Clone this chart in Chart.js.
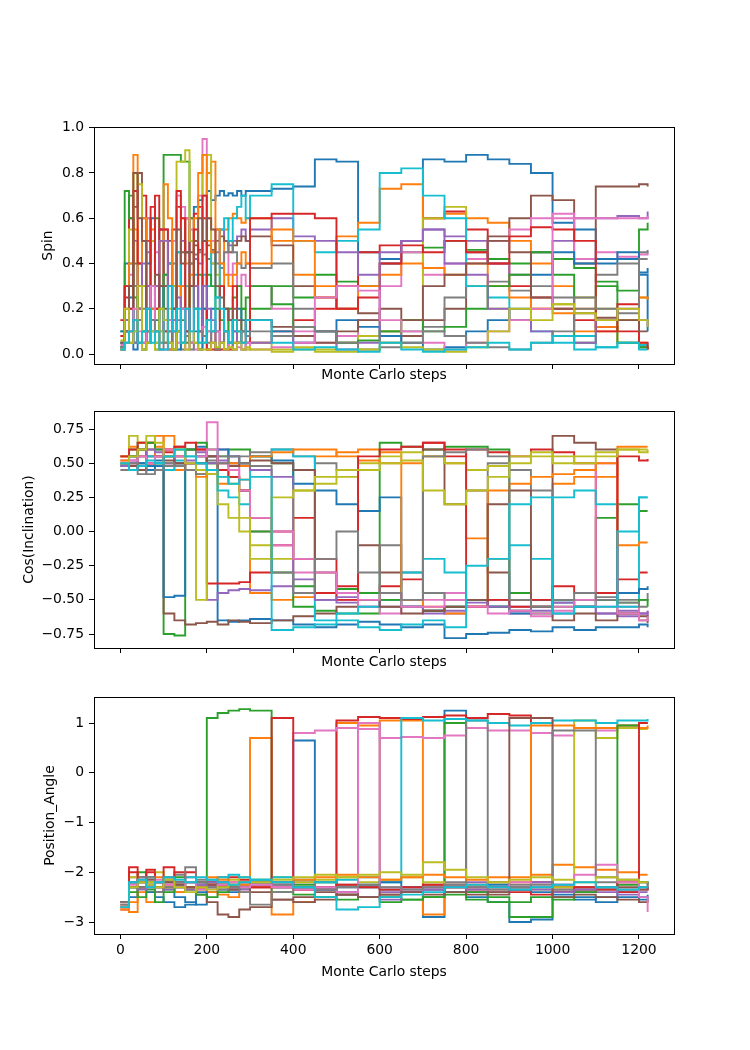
<!DOCTYPE html>
<html>
<head>
<meta charset="utf-8">
<script src="https://cdn.jsdelivr.net/npm/chart.js@4.4.0/dist/chart.umd.min.js"></script>
<style>
body{margin:0;background:#fff;}
#wrap{position:relative;width:750px;height:1050px;background:#fff;}
canvas{position:absolute;left:0;}
</style>
</head>
<body>
<div id="wrap">
<canvas id="spinChart" width="750" height="290" style="top:100px"></canvas>
<canvas id="incChart" width="750" height="290" style="top:390px"></canvas>
<canvas id="paChart" width="750" height="320" style="top:680px"></canvas>
</div>
<script>
// Monte Carlo step of every stored value (spin is sampled finer at the start)
var spinSteps = [0,10,20,30,40,50,60,70,80,90,100,110,120,130,140,150,160,170,180,190,200,210,220,230,240,250,260,270,280,290,300,
                 350,400,450,500,550,600,650,700,750,800,850,900,950,1000,1050,1100,1150,1200,1220];
var steps = [0,20,40,60,80,100,125,150,175,200,225,250,275,300,350,400,450,500,550,600,650,700,750,800,850,900,950,1000,1050,1100,1150,1200,1220];

var xTicks = [0,200,400,600,800,1000,1200];
var spinTicks = [0,0.2,0.4,0.6,0.8,1.0];
var incTicks = [-0.75,-0.5,-0.25,0,0.25,0.5,0.75];
var paTicks = [-3,-2,-1,0,1];

var colors = ['#1f77b4','#ff7f0e','#2ca02c','#d62728','#9467bd','#8c564b','#e377c2','#7f7f7f','#bcbd22','#17becf'];

// one row per walker
var spin = [
  [0.03,0.1,0.25,0.05,0.4,0.1,0.6,0.15,0.05,0.3,0.1,0.02,0.2,0.45,0.3,0.1,0.4,0.65,0.68,0.7,0.72,0.68,0.7,0.72,0.7,0.71,0.7,0.72,0.7,0.72,0.72,
   0.73,0.74,0.86,0.85,0.45,0.42,0.5,0.86,0.85,0.88,0.86,0.84,0.8,0.58,0.55,0.4,0.42,0.36,0.38],
  [0.05,0.2,0.1,0.88,0.3,0.05,0.2,0.55,0.1,0.3,0.05,0.02,0.15,0.3,0.6,0.4,0.6,0.3,0.02,0.05,0.8,0.85,0.55,0.3,0.55,0.6,0.62,0.6,0.58,0.6,0.6,
   0.5,0.35,0.3,0.52,0.58,0.73,0.75,0.6,0.62,0.6,0.58,0.5,0.4,0.3,0.2,0.1,0.15,0.05,0.05],
  [0.1,0.3,0.7,0.4,0.3,0.02,0.1,0.5,0.6,0.3,0.88,0.88,0.88,0.88,0.85,0.85,0.6,0.5,0.35,0.2,0.1,0.05,0.02,0.05,0.1,0.05,0.15,0.1,0.2,0.15,0.2,
   0.3,0.25,0.35,0.32,0.3,0.4,0.45,0.47,0.5,0.46,0.42,0.4,0.45,0.42,0.38,0.32,0.28,0.55,0.58],
  [0.08,0.25,0.6,0.3,0.15,0.7,0.5,0.3,0.7,0.55,0.1,0.4,0.55,0.65,0.2,0.6,0.3,0.62,0.65,0.6,0.02,0.02,0.02,0.02,0.02,0.02,0.05,0.05,0.05,0.05,0.05,
   0.1,0.15,0.2,0.3,0.45,0.48,0.5,0.6,0.63,0.55,0.4,0.3,0.25,0.2,0.15,0.12,0.1,0.03,0.02],
  [0.05,0.15,0.3,0.5,0.2,0.1,0.45,0.2,0.3,0.55,0.55,0.4,0.2,0.15,0.5,0.45,0.5,0.42,0.4,0.5,0.42,0.4,0.45,0.55,0.5,0.48,0.5,0.52,0.55,0.5,0.55,
   0.6,0.52,0.5,0.45,0.35,0.4,0.5,0.55,0.52,0.5,0.4,0.35,0.45,0.5,0.6,0.6,0.61,0.6,0.63],
  [0.02,0.1,0.3,0.65,0.8,0.3,0.05,0.15,0.2,0.5,0.2,0.5,0.3,0.1,0.45,0.6,0.45,0.48,0.46,0.5,0.48,0.46,0.5,0.52,0.5,0.45,0.48,0.5,0.52,0.5,0.52,
   0.48,0.3,0.25,0.2,0.18,0.1,0.08,0.15,0.2,0.45,0.52,0.6,0.7,0.68,0.4,0.74,0.74,0.75,0.74],
  [0.04,0.2,0.35,0.1,0.2,0.5,0.6,0.3,0.45,0.05,0.3,0.1,0.5,0.7,0.65,0.6,0.55,0.5,0.7,0.95,0.6,0.5,0.55,0.4,0.45,0.35,0.4,0.3,0.35,0.3,0.3,
   0.2,0.1,0.05,0.08,0.15,0.3,0.45,0.35,0.4,0.42,0.5,0.55,0.6,0.62,0.42,0.45,0.43,0.44,0.45],
  [0.02,0.05,0.1,0.3,0.15,0.02,0.05,0.2,0.02,0.1,0.35,0.3,0.4,0.1,0.02,0.45,0.4,0.44,0.45,0.44,0.42,0.45,0.4,0.38,0.45,0.5,0.45,0.4,0.38,0.4,0.38,
   0.4,0.2,0.1,0.05,0.08,0.05,0.1,0.12,0.25,0.3,0.32,0.28,0.3,0.25,0.2,0.35,0.4,0.45,0.46],
  [0.06,0.3,0.55,0.8,0.75,0.3,0.1,0.5,0.05,0.1,0.05,0.2,0.3,0.85,0.85,0.9,0.5,0.2,0.05,0.88,0.88,0.4,0.35,0.3,0.2,0.05,0.05,0.1,0.05,0.02,0.05,
   0.02,0.03,0.02,0.05,0.08,0.1,0.15,0.6,0.65,0.3,0.2,0.15,0.2,0.22,0.25,0.2,0.15,0.25,0.24],
  [0.05,0.15,0.4,0.05,0.2,0.5,0.3,0.1,0.3,0.05,0.3,0.4,0.1,0.45,0.2,0.3,0.05,0.35,0.2,0.35,0.3,0.45,0.25,0.55,0.6,0.5,0.6,0.65,0.7,0.6,0.7,
   0.75,0.5,0.45,0.5,0.55,0.8,0.82,0.7,0.6,0.3,0.25,0.15,0.1,0.05,0.08,0.03,0.05,0.04,0.05],
  [0.1,0.4,0.2,0.02,0.3,0.6,0.4,0.6,0.15,0.3,0.15,0.05,0.1,0.02,0.2,0.1,0.05,0.1,0.02,0.2,0.15,0.2,0.1,0.05,0.2,0.15,0.1,0.2,0.15,0.1,0.15,
   0.1,0.05,0.1,0.15,0.12,0.08,0.05,0.02,0.03,0.1,0.15,0.2,0.35,0.45,0.4,0.42,0.45,0.35,0.1],
  [0.02,0.1,0.4,0.55,0.2,0.6,0.05,0.2,0.3,0.5,0.75,0.6,0.02,0.1,0.3,0.2,0.35,0.6,0.8,0.88,0.5,0.45,0.55,0.4,0.35,0.3,0.35,0.4,0.45,0.4,0.4,
   0.55,0.5,0.25,0.2,0.3,0.35,0.4,0.38,0.35,0.4,0.3,0.25,0.2,0.18,0.1,0.12,0.05,0.25,0.24],
  [0.03,0.72,0.6,0.25,0.05,0.1,0.05,0.3,0.1,0.2,0.35,0.15,0.02,0.1,0.15,0.05,0.3,0.2,0.1,0.3,0.35,0.3,0.2,0.15,0.1,0.2,0.25,0.3,0.2,0.25,0.3,
   0.22,0.12,0.1,0.05,0.06,0.1,0.15,0.1,0.12,0.2,0.3,0.35,0.45,0.35,0.05,0.3,0.05,0.03,0.02],
  [0.15,0.3,0.2,0.72,0.4,0.05,0.3,0.65,0.2,0.55,0.55,0.3,0.2,0.72,0.6,0.1,0.3,0.55,0.1,0.7,0.02,0.1,0.02,0.3,0.02,0.05,0.3,0.05,0.1,0.05,0.6,
   0.62,0.62,0.6,0.2,0.25,0.4,0.48,0.45,0.5,0.45,0.4,0.52,0.56,0.55,0.5,0.1,0.22,0.05,0.02],
  [0.02,0.15,0.1,0.05,0.2,0.4,0.3,0.1,0.3,0.5,0.5,0.1,0.15,0.25,0.05,0.2,0.05,0.3,0.1,0.3,0.2,0.15,0.1,0.05,0.02,0.05,0.1,0.05,0.02,0.05,0.05,
   0.08,0.05,0.1,0.02,0.05,0.45,0.5,0.55,0.4,0.35,0.2,0.15,0.1,0.08,0.05,0.15,0.2,0.15,0.12],
  [0.05,0.1,0.3,0.8,0.6,0.5,0.2,0.15,0.35,0.3,0.3,0.05,0.2,0.55,0.4,0.45,0.3,0.5,0.6,0.5,0.6,0.55,0.3,0.25,0.2,0.15,0.2,0.15,0.1,0.15,0.15,
   0.12,0.08,0.05,0.1,0.15,0.2,0.15,0.3,0.35,0.4,0.5,0.45,0.25,0.2,0.18,0.16,0.15,0.1,0.1],
  [0.02,0.05,0.1,0.2,0.1,0.05,0.1,0.3,0.1,0.02,0.02,0.15,0.1,0.05,0.2,0.02,0.05,0.02,0.1,0.12,0.1,0.05,0.1,0.05,0.02,0.05,0.02,0.03,0.02,0.05,0.02,
   0.03,0.05,0.25,0.3,0.28,0.15,0.1,0.05,0.02,0.05,0.1,0.15,0.2,0.6,0.6,0.6,0.6,0.6,0.61],
  [0.03,0.1,0.05,0.15,0.05,0.2,0.1,0.15,0.1,0.02,0.05,0.1,0.02,0.1,0.05,0.08,0.02,0.05,0.1,0.08,0.05,0.1,0.02,0.05,0.1,0.05,0.02,0.05,0.1,0.08,0.1,
   0.08,0.12,0.1,0.05,0.02,0.03,0.05,0.1,0.08,0.05,0.03,0.02,0.05,0.1,0.25,0.2,0.18,0.42,0.42],
  [0.02,0.2,0.05,0.1,0.3,0.02,0.05,0.1,0.02,0.2,0.15,0.05,0.02,0.1,0.05,0.02,0.1,0.05,0.02,0.02,0.02,0.05,0.03,0.05,0.02,0.03,0.02,0.05,0.02,0.03,0.02,
   0.01,0.02,0.01,0.01,0.02,0.05,0.03,0.02,0.01,0.03,0.1,0.2,0.15,0.22,0.18,0.15,0.2,0.15,0.12],
  [0.02,0.05,0.1,0.15,0.05,0.1,0.2,0.05,0.1,0.02,0.02,0.3,0.1,0.2,0.05,0.2,0.1,0.2,0.05,0.05,0.15,0.1,0.25,0.2,0.1,0.05,0.15,0.1,0.05,0.15,0.15,
   0.05,0.02,0.03,0.02,0.01,0.05,0.02,0.01,0.02,0.03,0.05,0.02,0.05,0.08,0.02,0.03,0.05,0.02,0.02]
];

var cosInc = [
  [0.5,0.55,0.6,0.48,0.52,0.55,0.5,0.6,0.62,0.45,-0.65,-0.66,-0.65,-0.64,-0.65,-0.68,-0.7,-0.68,-0.66,-0.68,-0.7,-0.68,-0.78,-0.75,-0.74,-0.72,-0.73,-0.7,-0.72,-0.7,-0.7,-0.68,-0.7],
  [0.55,0.62,0.5,0.65,0.7,0.6,0.45,0.5,0.42,0.45,0.35,0.4,0.38,-0.45,-0.5,-0.48,0.55,0.58,0.6,0.58,0.5,0.55,0.5,-0.05,-0.2,-0.5,-0.55,0.35,0.4,0.4,0.62,0.62,0.62],
  [0.5,0.6,0.65,0.55,0.5,-0.75,-0.76,0.5,0.55,0.6,0.55,0.6,0.6,0.55,0.5,-0.55,-0.58,-0.6,-0.6,0.65,0.62,0.6,0.62,0.62,0.6,-0.45,-0.5,-0.55,-0.5,0.1,0.2,0.15,0.15],
  [0.55,0.5,0.6,0.65,0.55,0.58,0.62,0.5,0.6,-0.38,-0.38,-0.38,-0.37,-0.3,-0.1,0.1,-0.2,-0.4,-0.45,-0.4,-0.35,0.65,0.55,0.6,0.58,0.55,0.6,0.58,0.5,-0.45,-0.35,-0.3,-0.3],
  [0.48,0.52,0.45,0.55,0.6,0.5,0.55,0.6,0.58,-0.5,-0.45,-0.43,-0.42,-0.43,-0.4,-0.35,-0.5,-0.52,-0.55,-0.5,-0.55,-0.58,-0.6,-0.55,-0.5,-0.55,-0.58,-0.6,-0.55,-0.6,-0.58,-0.6,-0.62],
  [0.5,0.45,0.55,0.5,0.45,-0.6,-0.65,-0.68,-0.67,-0.66,-0.68,-0.65,-0.66,-0.67,-0.65,-0.62,-0.6,-0.55,-0.1,-0.3,-0.5,0.6,0.2,0.3,-0.3,-0.5,-0.55,0.7,0.65,0.6,-0.6,-0.65,-0.67],
  [0.52,0.55,0.5,0.6,0.48,0.5,0.55,0.5,0.6,0.8,0.6,0.5,0.3,0.0,-0.1,-0.3,-0.45,-0.5,-0.55,-0.6,-0.55,-0.5,-0.45,-0.5,-0.55,-0.6,-0.62,-0.58,-0.55,0.5,-0.55,-0.6,-0.58],
  [0.5,0.48,0.42,0.45,0.5,0.48,0.55,0.6,0.55,0.52,0.55,0.5,0.55,0.58,0.6,0.55,0.5,0.45,-0.5,-0.1,-0.3,-0.45,-0.5,-0.55,0.5,0.45,0.3,-0.5,-0.5,-0.48,-0.5,-0.5,-0.45],
  [0.55,0.7,0.65,0.6,0.5,0.55,0.6,0.5,-0.5,0.5,0.2,0.1,0.0,-0.1,-0.2,0.3,0.35,0.4,0.5,0.55,0.58,0.55,0.5,0.45,0.48,0.55,0.58,0.5,0.55,0.58,0.6,0.6,0.6],
  [0.48,0.45,0.5,0.55,0.5,0.45,0.52,0.55,0.5,0.55,0.3,0.25,0.2,0.55,0.6,0.55,-0.65,-0.6,-0.55,-0.5,-0.3,-0.2,-0.3,-0.5,-0.55,-0.1,-0.2,0.25,0.3,0.2,-0.55,0.25,0.25],
  [0.5,0.55,0.5,0.45,0.48,-0.48,-0.47,0.5,0.5,0.55,0.6,0.55,0.5,0.55,0.52,0.35,0.3,0.2,0.15,0.25,-0.55,-0.58,-0.55,-0.5,-0.55,-0.6,-0.5,-0.52,-0.55,-0.5,-0.45,-0.42,-0.4],
  [0.52,0.48,0.55,0.5,0.62,0.7,0.55,0.45,0.4,0.42,0.45,0.5,0.48,0.55,0.58,0.6,0.6,0.55,0.52,0.5,-0.5,-0.55,-0.6,-0.55,0.3,0.35,0.4,0.42,0.45,0.5,-0.1,-0.08,-0.08],
  [0.5,0.55,0.6,0.65,0.6,0.55,0.5,0.6,0.65,0.5,0.45,0.4,0.3,0.0,-0.3,-0.4,-0.45,-0.42,-0.45,-0.5,-0.55,-0.58,-0.55,-0.5,-0.55,-0.58,-0.6,-0.5,-0.55,-0.5,-0.52,-0.5,-0.55],
  [0.55,0.6,0.65,0.5,0.55,0.6,0.62,0.65,0.6,0.55,0.45,0.4,0.3,0.1,0.0,-0.2,-0.45,-0.5,0.55,0.6,0.62,0.65,0.6,-0.55,-0.5,-0.55,-0.5,-0.4,-0.45,-0.45,0.55,0.52,0.53],
  [0.48,0.5,0.55,0.6,0.58,0.55,0.5,0.52,0.55,0.5,0.52,0.55,0.5,0.45,0.4,-0.45,-0.5,-0.48,-0.5,-0.55,-0.55,-0.6,-0.58,-0.52,-0.55,-0.58,-0.55,-0.52,-0.55,-0.6,-0.62,-0.6,-0.58],
  [0.5,0.48,0.45,0.5,0.55,0.52,0.5,0.45,0.5,0.55,0.5,0.48,0.5,0.52,0.5,0.45,-0.3,-0.45,-0.5,-0.55,-0.6,-0.58,-0.55,-0.5,0.2,0.3,-0.55,-0.65,-0.6,-0.65,-0.6,-0.62,-0.65],
  [0.5,0.52,0.55,0.5,0.55,0.6,0.55,0.5,0.55,0.6,0.5,0.45,0.3,0.1,0.0,-0.2,-0.3,-0.45,-0.5,-0.45,-0.55,-0.55,-0.5,-0.55,-0.6,-0.58,-0.6,-0.55,-0.5,-0.55,-0.6,-0.65,-0.62],
  [0.45,0.5,0.48,0.42,0.45,0.5,0.48,0.45,0.42,0.45,0.5,0.55,0.5,0.48,-0.3,-0.45,-0.2,0.0,-0.3,-0.45,-0.5,0.55,0.58,0.6,0.55,-0.5,-0.55,-0.5,-0.45,-0.5,-0.52,-0.55,-0.55],
  [0.5,0.55,0.6,0.7,0.65,0.55,0.6,0.5,0.45,0.42,0.4,0.35,0.1,-0.2,0.25,0.3,0.4,0.45,0.45,0.5,0.52,0.3,0.2,0.3,0.4,0.5,0.55,0.55,0.5,0.55,0.6,0.58,0.6],
  [0.5,0.45,0.48,0.52,0.5,0.55,0.6,0.55,0.5,0.45,0.4,0.35,0.38,0.4,-0.72,-0.7,-0.68,-0.65,-0.7,-0.72,-0.68,-0.65,-0.7,-0.25,-0.2,0.2,0.25,-0.6,-0.55,-0.55,0.0,0.25,0.25]
];

var posAngle = [
  [-2.7,-2.2,-2.3,-2.1,-2.4,-2.3,-2.5,-2.6,-2.65,-2.4,-2.2,-2.3,-2.25,-2.2,-2.3,0.65,-2.35,-2.4,-2.3,-2.35,-2.4,-2.9,1.25,-2.5,-2.6,-3.0,-2.95,-2.5,-2.55,-2.5,-2.4,-2.5,-2.45],
  [-2.75,-2.6,-2.2,-2.4,-2.1,-2.3,-2.25,-2.35,-2.2,-2.4,-2.45,-2.5,-2.4,0.7,-2.85,-2.6,-2.3,1.0,0.95,1.05,1.05,-2.85,-2.3,-2.25,-2.2,-2.1,-2.05,-1.85,-1.9,-1.95,-2.0,-2.05,-2.05],
  [-2.7,-2.4,-2.0,-2.3,-2.2,-2.35,-2.1,-2.3,-2.3,1.1,1.2,1.25,1.28,1.25,-2.3,-2.25,-2.2,-2.45,-2.5,-2.5,-2.55,-2.5,1.0,-2.55,-2.6,-2.9,-2.9,-2.4,-2.35,-2.3,-2.25,-2.2,-2.25],
  [-2.65,-2.0,-2.3,-1.95,-2.4,-2.1,-2.0,-2.2,-2.3,-2.25,-2.2,-2.1,-2.15,-2.2,-2.3,-2.35,-2.3,1.05,1.12,1.1,1.08,1.12,1.15,1.1,1.18,1.15,-2.2,-2.3,-2.35,-2.3,-2.4,-2.35,-2.3],
  [-2.6,-2.2,-2.3,-2.25,-2.4,-2.35,-2.3,-2.2,-2.25,-2.3,-2.2,-2.3,-2.35,-2.3,-2.25,-2.2,-2.3,-2.45,-2.5,-2.4,-2.35,-2.3,-2.25,-2.2,-2.3,-2.35,-2.2,-2.25,-2.3,-2.4,-2.35,-2.3,-2.35],
  [-2.7,-2.2,-2.1,-2.3,-2.2,-2.15,-2.2,-2.3,-2.45,-2.6,-2.85,-2.9,-2.75,-2.7,-2.55,-2.5,-2.4,-2.45,1.0,-2.45,-2.4,-2.35,-2.3,-2.4,-2.45,-2.35,-2.3,-2.35,-2.4,-2.35,-2.3,-2.35,-2.3],
  [-2.75,-2.1,-2.2,-2.3,-2.15,-2.25,-2.2,-2.1,-2.3,-2.2,-2.25,-2.3,-2.2,-2.25,-2.3,0.8,0.85,0.9,0.88,0.7,0.72,0.7,0.75,0.9,0.85,0.85,0.8,0.75,0.9,0.85,0.95,1.0,1.0],
  [-2.65,-2.3,-2.1,-2.2,-2.4,-2.1,-2.05,-2.2,-2.15,-2.2,-2.1,-2.25,-2.3,-2.2,-2.25,-2.3,-2.2,-2.25,-2.3,-2.35,-2.3,-2.25,-2.2,1.05,-2.2,-2.25,-2.3,-2.35,-2.3,-2.2,-2.35,-2.3,-2.2],
  [-2.7,-2.1,-2.3,-2.2,-2.0,-2.3,-2.4,-2.35,-2.3,-2.2,-2.25,-2.15,-2.1,-2.15,-2.1,-2.2,-2.15,-2.1,-2.2,-2.15,-2.1,-2.2,-2.25,-2.3,-2.35,-2.3,-2.35,-2.3,1.05,0.7,0.9,0.88,0.88],
  [-2.7,-2.3,-2.2,-2.1,-2.3,-2.2,-2.25,-2.1,-2.2,-2.15,-2.1,-2.05,-2.1,-2.15,-2.1,-2.15,-2.2,-2.15,-2.1,-2.2,1.1,1.05,1.08,1.05,1.0,0.95,1.0,1.05,1.05,1.0,1.05,1.05,1.08],
  [-2.6,-2.5,-2.3,-2.4,-2.5,-2.6,-2.7,-2.65,-2.4,-2.3,-2.35,-2.4,-2.3,-2.25,-2.2,-2.3,-2.35,-2.3,-2.25,-2.2,-2.3,-2.35,-2.4,-2.3,-2.25,-2.35,-2.4,-2.45,-2.5,-2.6,-2.5,-2.55,-2.5],
  [-2.75,-2.8,-2.4,-2.6,-2.3,-2.25,-2.4,-2.3,-2.35,-2.1,-2.15,-2.2,-2.25,-2.3,-2.2,-2.15,-2.1,-2.05,-2.1,-2.15,-2.1,-2.05,-2.1,-2.15,-2.1,-2.2,0.95,0.95,0.9,0.9,0.95,0.9,0.95],
  [-2.7,-2.3,-2.5,-2.35,-2.6,-2.4,-2.3,-2.35,-2.45,-2.5,-2.4,-2.35,-2.3,-2.25,-2.4,-2.45,-2.5,-2.55,-2.5,-2.6,-2.55,-2.5,-2.45,-2.4,-2.5,-2.6,-2.5,-2.55,-2.4,-2.3,0.95,1.0,1.0],
  [-2.6,-1.9,-2.3,-2.0,-2.2,-1.9,-2.2,-2.0,-2.3,-2.2,-2.25,-2.3,-2.2,-2.3,1.1,-2.35,-2.3,-2.25,-2.3,-2.35,-2.3,-2.25,-2.3,-2.35,-2.3,-2.4,-2.45,-2.4,-2.3,-2.35,-2.2,1.0,1.0],
  [-2.7,-2.2,-2.35,-2.25,-2.3,-2.2,-2.3,-2.35,-2.25,-2.2,-2.3,-2.35,-2.3,-2.25,-2.2,-2.3,-2.35,-2.4,-2.5,-2.55,-2.4,-2.35,-2.3,-2.35,-2.4,-2.3,-2.35,-2.4,-2.35,-2.3,-2.45,-2.4,-2.4],
  [-2.7,-2.3,-2.2,-2.15,-2.3,-2.2,-2.25,-2.3,-2.2,-2.25,-2.3,-2.35,-2.3,-2.4,-2.55,-2.6,-2.55,-2.45,-2.5,-2.45,-2.4,-2.45,-2.4,-2.45,-2.4,1.1,1.1,-2.5,-2.45,-2.5,-2.55,-2.6,-2.55],
  [-2.7,-2.25,-2.15,-2.3,-2.2,-2.25,-2.3,-2.2,-2.35,-2.3,-2.25,-2.2,-2.3,-2.25,-2.3,-2.35,-2.3,-2.4,1.0,-2.3,-2.35,-2.3,-2.25,-2.3,-2.35,-2.2,-2.3,-2.25,-2.05,-1.85,-2.2,-2.5,-2.8],
  [-2.6,-2.2,-2.3,-2.1,-2.2,-2.3,-2.2,-1.9,-2.2,-2.3,-2.35,-2.3,-2.4,-2.65,-2.4,-2.3,-2.35,-2.3,-2.25,-2.3,-2.35,-2.3,-2.25,-2.3,-2.35,-2.3,-2.25,0.85,0.85,-2.1,-2.15,-2.2,-2.3],
  [-2.7,-2.3,-2.2,-2.25,-2.3,-2.15,-2.3,-2.4,-2.3,-2.35,-2.3,-2.25,-2.2,-2.2,-2.15,-2.1,-2.05,-2.1,-2.05,-2.0,-2.05,-1.8,-1.95,-2.1,-2.2,-2.15,-2.1,-2.15,-2.2,-2.1,-2.15,-2.2,-2.2],
  [-2.7,-2.2,-2.15,-2.3,-2.2,-2.1,-2.15,-2.2,-2.1,-2.15,-2.2,-2.25,-2.2,-2.15,-2.2,-2.3,-2.5,-2.75,-2.7,-2.5,-2.45,-2.4,-2.3,-2.25,-2.3,-2.35,-2.3,-2.25,-2.2,-2.3,-2.35,-2.3,-2.3]
];

Chart.defaults.font.family = '"DejaVu Sans", sans-serif';
Chart.defaults.font.size = 13.9;
Chart.defaults.color = '#000';

// matplotlib style box round the plot area
var framePlugin = {
    id: 'frame',
    afterDraw: function(chart){
        var a = chart.chartArea;
        var ctx = chart.ctx;
        ctx.save();
        ctx.strokeStyle = '#000';
        ctx.lineWidth = 1;
        ctx.strokeRect(Math.round(a.left) + 0.5, Math.round(a.top) + 0.5, Math.round(a.right - a.left), Math.round(a.bottom - a.top));
        ctx.restore();
    }
};

function fmt(v, dec){
    var s = Math.abs(v).toFixed(dec);
    return (v < 0 ? '\u2212' : '') + s;
}

function makeChart(id, xs, chains, yTicks, yMin, yMax, yTitle, dec, o){
    var datasets = chains.map(function(c, i){
        return {
            data: xs.map(function(s, k){ return {x: s, y: c[k]}; }),
            borderColor: colors[i % 10],
            backgroundColor: colors[i % 10],
            borderWidth: 1.9,
            pointRadius: 0,
            stepped: true,
            fill: false,
            order: -i
        };
    });
    return new Chart(document.getElementById(id).getContext('2d'), {
        type: 'line',
        data: {datasets: datasets},
        options: {
            responsive: false,
            animation: false,
            events: [],
            devicePixelRatio: 1,
            layout: {padding: {top: o.padTop, right: 76, bottom: 0, left: 0}},
            plugins: {legend: {display: false}, tooltip: {enabled: false}},
            scales: {
                x: {
                    type: 'linear',
                    bounds: 'data',
                    min: -61,
                    max: 1281,
                    afterBuildTicks: function(s){ s.ticks = xTicks.map(function(v){ return {value: v}; }); },
                    afterFit: function(s){ s.height = o.xAxisH; },
                    ticks: {display: o.xLabels, padding: 3, maxRotation: 0, autoSkip: false,
                            callback: function(v){ return String(v); }},
                    grid: {drawOnChartArea: false, color: '#000', tickLength: 5},
                    border: {display: false},
                    title: {display: true, text: 'Monte Carlo steps', padding: {top: 0, bottom: o.xTitlePad}}
                },
                y: {
                    type: 'linear',
                    bounds: 'data',
                    min: yMin,
                    max: yMax,
                    afterBuildTicks: function(s){ s.ticks = yTicks.map(function(v){ return {value: v}; }); },
                    afterFit: function(s){ s.width = 94; },
                    ticks: {padding: 5, autoSkip: false, callback: function(v){ return fmt(v, dec); }},
                    grid: {drawOnChartArea: false, color: '#000', tickLength: 5},
                    border: {display: false},
                    title: {display: true, text: yTitle, padding: {top: o.yTitlePad, bottom: 0}}
                }
            }
        },
        plugins: [framePlugin]
    });
}

makeChart('spinChart', spinSteps, spin, spinTicks, -0.044, 1.003, 'Spin', 1,
    {padTop: 27, xAxisH: 26, xTitlePad: 6, yTitlePad: 40, xLabels: false});
makeChart('incChart', steps, cosInc, incTicks, -0.852, 0.882, 'Cos(Inclination)', 2,
    {padTop: 21, xAxisH: 32, xTitlePad: 9, yTitlePad: 21, xLabels: false});
makeChart('paChart', steps, posAngle, paTicks, -3.241, 1.523, 'Position_Angle', 0,
    {padTop: 17, xAxisH: 66, xTitlePad: 19, yTitlePad: 42, xLabels: true});
</script>
</body>
</html>
